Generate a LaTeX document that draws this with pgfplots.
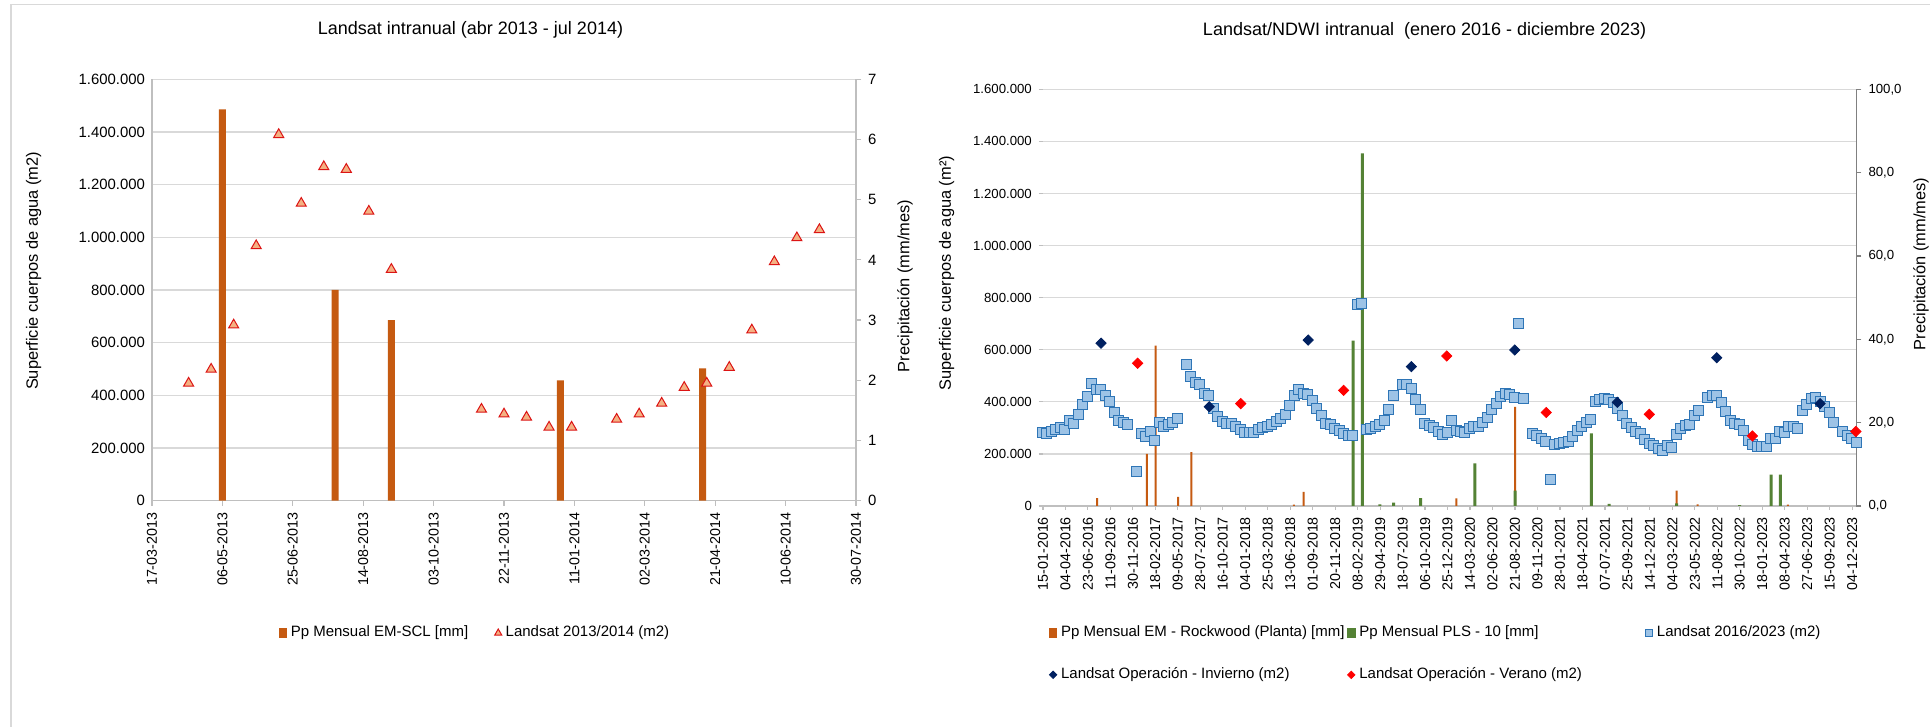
\documentclass[border=0pt]{standalone}
\usepackage{fontspec}
\setmainfont{Liberation Sans}
\usepackage{pgfplots}
\pgfplotsset{compat=1.18}
\definecolor{gridc}{RGB}{217,217,217}
\definecolor{axc}{RGB}{191,191,191}
\definecolor{axd}{RGB}{128,128,128}
\definecolor{barO}{RGB}{197,90,17}
\definecolor{barG}{RGB}{84,130,53}
\definecolor{triF}{RGB}{244,177,131}
\definecolor{triE}{RGB}{220,20,20}
\definecolor{sqF}{RGB}{157,195,230}
\definecolor{sqE}{RGB}{46,117,182}
\definecolor{navy}{RGB}{0,32,96}
\definecolor{redd}{RGB}{255,0,0}

\pgfplotsset{
  common/.style={scale only axis, anchor=south west, enlargelimits=false, clip=false,
    /pgf/number format/assume math mode=true},
  Lgeom/.style={common, width=352pt, height=210.7pt, at={(76pt,113.15pt)}, xmin=0, xmax=500},
  Rgeom/.style={common, width=406.75pt, height=208.35pt, at={(521.45pt,110.5pt)}, xmin=0, xmax=2895},
}
\begin{document}
\begin{tikzpicture}
\path[use as bounding box, fill=white] (0,0) rectangle (965pt,363.5pt);
\draw[gridc, line width=0.8pt] (5.5pt,0) -- (5.5pt,361.25pt) -- (965pt,361.25pt);

%================ LEFT CHART =================
\begin{axis}[Lgeom, ymin=0, ymax=1600000,
  axis x line*=bottom, axis y line*=left, axis line style={axc, line width=0.6pt, -},
  xtick={0,50,...,500},
  xticklabels={17-03-2013,06-05-2013,25-06-2013,14-08-2013,03-10-2013,22-11-2013,11-01-2014,02-03-2014,21-04-2014,10-06-2014,30-07-2014},
  xticklabel style={rotate=90, anchor=east, font=\fontsize{7.15}{8}\selectfont},
  xtick align=outside, xtick style={axc, line width=0.6pt}, major tick length=2.5pt,
  ytick={0,200000,400000,600000,800000,1000000,1200000,1400000,1600000}, ytick style={draw=none},
  scaled y ticks=false,
  yticklabel style={font=\fontsize{7.45}{8}\selectfont, /pgf/number format/fixed, /pgf/number format/1000 sep={.}},
  ymajorgrids, grid style={gridc, line width=0.6pt},
  title={Landsat intranual (abr 2013 - jul 2014)},
  title style={at={(axis description cs:0.4524,1.117)}, anchor=center, yshift=-6pt, font=\fontsize{9}{11}\selectfont},
  ylabel={Superficie cuerpos de agua (m2)},
  every axis y label/.style={at={(axis description cs:-0.168,0.545)}, rotate=90, anchor=center, font=\fontsize{8.2}{10}\selectfont},
]
\end{axis}

\begin{axis}[Lgeom, ymin=0, ymax=7,
  axis x line=none, axis y line*=right, axis line style={axc, line width=0.6pt, -},
  ytick={0,1,2,3,4,5,6,7}, ytick align=outside, ytick style={axc, line width=0.6pt}, major tick length=2.5pt,
  yticklabel style={font=\fontsize{7.45}{8}\selectfont},
  ylabel={Precipitación (mm/mes)},
  every axis y label/.style={at={(axis description cs:1.0696,0.5095)}, rotate=90, anchor=center, font=\fontsize{8.2}{10}\selectfont},
]
\addplot[ybar, bar width=3.5pt, bar shift=0pt, fill=barO, draw=none] coordinates {(50,6.5) (130,3.5) (170,3.0) (290,2.0) (391,2.2)};
\end{axis}

\begin{axis}[Lgeom, ymin=0, ymax=1600000, hide axis,
  legend style={at={(0.1798,-0.314)}, anchor=west, draw=none, fill=none, inner sep=0pt,
    font=\fontsize{7.5}{9}\selectfont, column sep=0pt},
  legend columns=2, legend cell align=left]
\addlegendimage{legend image code/.code={\fill[barO] (0pt,-2pt) rectangle (3.5pt,2.2pt);}}
\addlegendentry{\makebox[100pt][l]{Pp Mensual EM-SCL [mm]}}
\addlegendimage{legend image code/.code={\draw[only marks, mark=triangle*, mark size=2pt, mark options={fill=triF, draw=triE, line width=0.5pt}] plot coordinates {(2pt,0pt)};}}
\addlegendentry{Landsat 2013/2014 (m2)}
\addplot[forget plot, only marks, mark=triangle*, mark size=2.9pt, mark options={fill=triF, draw=triE, line width=0.5pt}]
  coordinates {(26,446000) (42,499000) (58,667000) (74,968000) (90,1390000) (106,1129000) (122,1268000) (138,1258000) (154,1099000) (170,878000) (234,347000) (250,329000) (266,317000) (282,279000) (298,279000) (330,309000) (346,329000) (362,370000) (378,430000) (394,446000) (410,506000) (426,648000) (442,907000) (458,998000) (474,1029000)};
\end{axis}

%================ RIGHT CHART =================
\begin{axis}[Rgeom, ymin=0, ymax=1600000,
  axis x line*=bottom, axis y line*=left, axis line style={axc, line width=0.6pt, -},
  y axis line style={draw=none},
  xtick={0,80,...,2880},
  xticklabels={15-01-2016,04-04-2016,23-06-2016,11-09-2016,30-11-2016,18-02-2017,09-05-2017,28-07-2017,16-10-2017,04-01-2018,25-03-2018,13-06-2018,01-09-2018,20-11-2018,08-02-2019,29-04-2019,18-07-2019,06-10-2019,25-12-2019,14-03-2020,02-06-2020,21-08-2020,09-11-2020,28-01-2021,18-04-2021,07-07-2021,25-09-2021,14-12-2021,04-03-2022,23-05-2022,11-08-2022,30-10-2022,18-01-2023,08-04-2023,27-06-2023,15-09-2023,04-12-2023},
  xticklabel style={rotate=90, anchor=east, font=\fontsize{7.15}{8}\selectfont},
  xtick align=outside, ytick align=outside, tick style={axc, line width=0.6pt}, major tick length=2pt,
  ytick={0,200000,400000,600000,800000,1000000,1200000,1400000,1600000},
  scaled y ticks=false,
  yticklabel style={font=\fontsize{6.6}{8}\selectfont, /pgf/number format/fixed, /pgf/number format/1000 sep={.}},
  ymajorgrids, grid style={gridc, line width=0.6pt},
  title={Landsat/NDWI intranual\ \ (enero 2016 - diciembre 2023)},
  title style={at={(axis description cs:0.4692,1.140)}, anchor=center, yshift=-6pt, font=\fontsize{9}{11}\selectfont},
  ylabel={Superficie cuerpos de agua (m²)},
  every axis y label/.style={at={(axis description cs:-0.1183,0.559)}, rotate=90, anchor=center, font=\fontsize{8.2}{10}\selectfont},
]
\end{axis}

\begin{axis}[Rgeom, ymin=0, ymax=100,
  axis x line=none, axis y line*=right, axis line style={axd, line width=0.6pt, -},
  ytick={0,20,40,60,80,100}, ytick align=outside, ytick style={axd, line width=0.6pt}, major tick length=2.5pt,
  yticklabel style={font=\fontsize{6.6}{8}\selectfont, /pgf/number format/.cd, fixed, fixed zerofill, precision=1, use comma},
  ylabel={Precipitación (mm/mes)},
  every axis y label/.style={at={(axis description cs:1.0794,0.581)}, rotate=90, anchor=center, font=\fontsize{8.2}{10}\selectfont},
]
\addplot[ybar, bar width=1pt, bar shift=0pt, fill=barO, draw=none] coordinates {(193,1.9) (370,12.5) (401,38.5) (481,2.2) (528,12.9) (893,0.3) (928,3.4) (1471,1.8) (1680,23.8) (2255,3.7) (2330,0.4) (2651,0.3)};
\addplot[ybar, bar width=1.5pt, bar shift=0pt, fill=barG, draw=none] coordinates {(1104,39.7) (1137,84.6) (1199,0.4) (1248,0.8) (1344,1.9) (1537,10.2) (1680,3.7) (1952,17.4) (2015,0.5) (2255,0.6) (2479,0.2) (2591,7.5) (2624,7.5)};
\end{axis}

\begin{axis}[Rgeom, ymin=0, ymax=1600000, hide axis,
  legend style={at={(0.0069,-0.355)}, anchor=west, draw=none, fill=none, inner sep=0pt,
    font=\fontsize{7.5}{9}\selectfont, column sep=0pt, row sep=10pt},
  legend columns=3, legend cell align=left]
\addlegendimage{legend image code/.code={\fill[barO] (0pt,-2pt) rectangle (3.7pt,2.2pt);}}
\addlegendentry{\makebox[141pt][l]{Pp Mensual EM - Rockwood (Planta) [mm]}}
\addlegendimage{legend image code/.code={\fill[barG] (0pt,-2pt) rectangle (3.7pt,2.2pt);}}
\addlegendentry{\makebox[141pt][l]{Pp Mensual PLS - 10 [mm]}}
\addlegendimage{legend image code/.code={\draw[only marks, mark=square*, mark size=1.9pt, mark options={fill=sqF, draw=sqE, line width=0.5pt}] plot coordinates {(1.9pt,0pt)};}}
\addlegendentry{Landsat 2016/2023 (m2)}
\addlegendimage{legend image code/.code={\draw[only marks, mark=square*, mark size=1.3pt, mark options={rotate=45, fill=navy, draw=navy}] plot coordinates {(1.9pt,0pt)};}}
\addlegendentry{Landsat Operación - Invierno (m2)}
\addlegendimage{legend image code/.code={\draw[only marks, mark=square*, mark size=1.3pt, mark options={rotate=45, fill=redd, draw=redd}] plot coordinates {(1.9pt,0pt)};}}
\addlegendentry{Landsat Operación - Verano (m2)}
\addplot[forget plot, only marks, mark=square*, mark size=2.5pt, mark options={fill=sqF, draw=sqE, line width=0.5pt}]
  coordinates {(-2,283000) (14,277000) (30,286000) (46,292000) (62,301000) (78,293000) (94,330000) (110,318000) (126,350000) (142,389000) (158,420000) (174,471000) (190,448000) (206,446000) (222,423000) (238,401000) (254,360000) (270,328000) (286,320000) (302,311000) (334,131000) (350,279000) (366,266000) (382,286000) (398,252000) (414,320000) (430,307000) (446,314000) (462,320000) (478,335000) (510,543000) (526,499000) (542,475000) (558,465000) (574,433000) (590,423000) (606,375000) (622,343000) (638,324000) (654,315000) (670,318000) (686,305000) (702,294000) (718,284000) (734,283000) (750,283000) (766,292000) (782,301000) (798,305000) (814,311000) (830,324000) (846,337000) (862,353000) (878,384000) (894,426000) (910,448000) (926,433000) (942,430000) (958,405000) (974,375000) (990,346000) (1006,318000) (1022,311000) (1038,298000) (1054,288000) (1070,277000) (1086,269000) (1102,269000) (1118,772000) (1134,778000) (1150,294000) (1166,298000) (1182,307000) (1198,314000) (1214,330000) (1230,369000) (1246,426000) (1278,465000) (1294,465000) (1310,452000) (1326,407000) (1342,369000) (1358,315000) (1374,309000) (1390,302000) (1406,286000) (1422,273000) (1438,281000) (1454,330000) (1470,289000) (1486,286000) (1502,282000) (1518,298000) (1534,305000) (1550,305000) (1566,320000) (1582,339000) (1598,371000) (1614,392000) (1630,420000) (1646,432000) (1662,430000) (1678,417000) (1694,702000) (1710,414000) (1742,279000) (1758,271000) (1774,260000) (1790,248000) (1806,100000) (1822,238000) (1838,241000) (1854,245000) (1870,247000) (1886,266000) (1902,289000) (1918,305000) (1934,320000) (1950,333000) (1966,403000) (1982,410000) (1998,413000) (2014,407000) (2030,397000) (2046,375000) (2062,346000) (2078,315000) (2094,301000) (2110,286000) (2126,279000) (2142,257000) (2158,240000) (2174,232000) (2190,220000) (2206,215000) (2222,234000) (2238,225000) (2254,273000) (2270,296000) (2286,309000) (2302,311000) (2318,346000) (2334,365000) (2366,417000) (2382,423000) (2398,424000) (2414,398000) (2430,362000) (2446,328000) (2462,318000) (2478,311000) (2494,289000) (2510,253000) (2526,238000) (2542,228000) (2558,230000) (2574,230000) (2590,260000) (2606,260000) (2622,286000) (2638,282000) (2654,305000) (2670,305000) (2686,298000) (2702,365000) (2718,391000) (2734,411000) (2750,417000) (2766,401000) (2782,382000) (2798,360000) (2814,321000) (2846,286000) (2862,269000) (2878,260000) (2894,243000)};
\addplot[forget plot, only marks, mark=square*, mark size=1.8pt, mark options={rotate=45, fill=navy, draw=navy}]
  coordinates {(207,625000) (592,381000) (944,637000) (1311,535000) (1679,599000) (2044,398000) (2398,569000) (2766,393000)};
\addplot[forget plot, only marks, mark=square*, mark size=1.8pt, mark options={rotate=45, fill=redd, draw=redd}]
  coordinates {(337,548000) (704,393000) (1070,444000) (1437,576000) (1791,359000) (2158,352000) (2525,269000) (2893,286000)};
\end{axis}
\end{tikzpicture}
\end{document}
